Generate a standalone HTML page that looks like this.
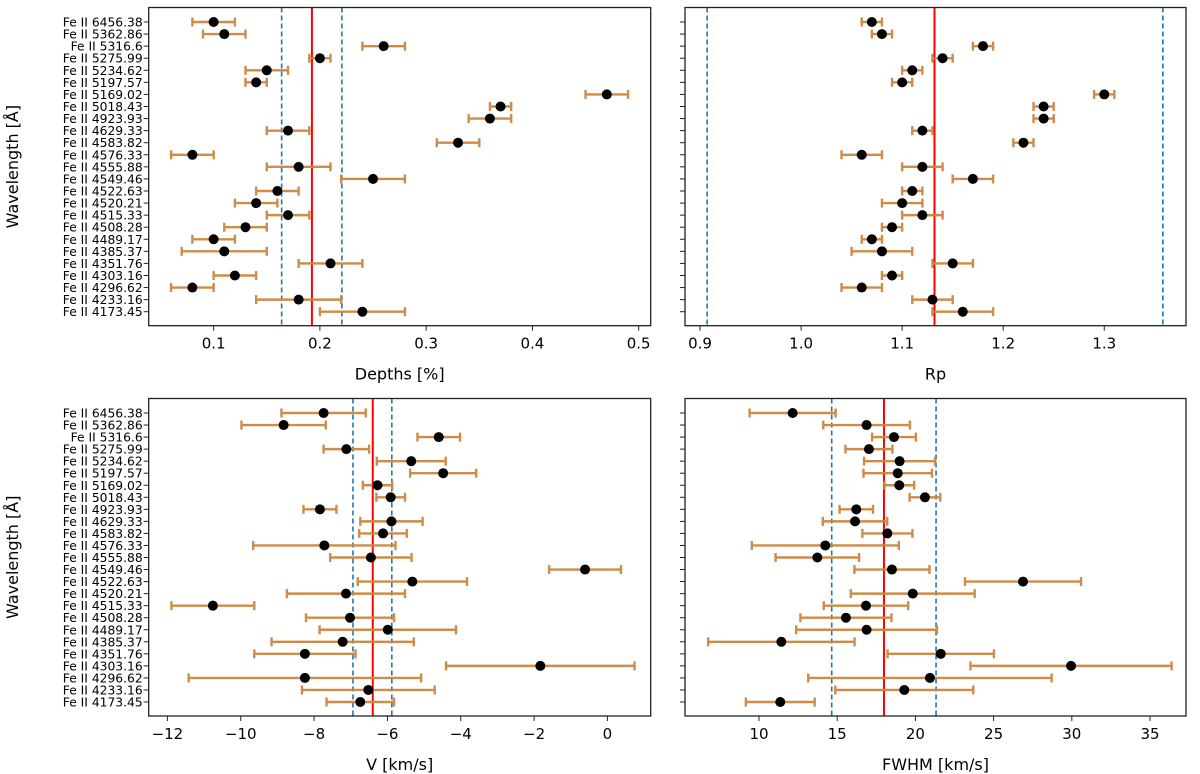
<!DOCTYPE html>
<html><head><meta charset="utf-8"><style>
body{margin:0;background:#fff;}
svg{display:block;font-family:"DejaVu Sans","Liberation Sans",sans-serif;}
</style></head><body>
<svg id="fig" width="1200" height="774" viewBox="0 0 1200 774" xmlns="http://www.w3.org/2000/svg"></svg>
<script>
const labels=["Fe II 6456.38","Fe II 5362.86","Fe II 5316.6","Fe II 5275.99","Fe II 5234.62","Fe II 5197.57","Fe II 5169.02","Fe II 5018.43","Fe II 4923.93","Fe II 4629.33","Fe II 4583.82","Fe II 4576.33","Fe II 4555.88","Fe II 4549.46","Fe II 4522.63","Fe II 4520.21","Fe II 4515.33","Fe II 4508.28","Fe II 4489.17","Fe II 4385.37","Fe II 4351.76","Fe II 4303.16","Fe II 4296.62","Fe II 4233.16","Fe II 4173.45"];
const depthVals=[0.10,0.11,0.26,0.20,0.15,0.14,0.47,0.37,0.36,0.17,0.33,0.08,0.18,0.25,0.16,0.14,0.17,0.13,0.10,0.11,0.21,0.12,0.08,0.18,0.24];
const depthErr=[0.02,0.02,0.02,0.01,0.02,0.01,0.02,0.01,0.02,0.02,0.02,0.02,0.03,0.03,0.02,0.02,0.02,0.02,0.02,0.04,0.03,0.02,0.02,0.04,0.04];
const depthLines=[0.1925,0.164,0.2207];
const rpVals=[1.07,1.08,1.18,1.14,1.11,1.10,1.30,1.24,1.24,1.12,1.22,1.06,1.12,1.17,1.11,1.10,1.12,1.09,1.07,1.08,1.15,1.09,1.06,1.13,1.16];
const rpErr=[0.01,0.01,0.01,0.01,0.01,0.01,0.01,0.01,0.01,0.01,0.01,0.02,0.02,0.02,0.01,0.02,0.02,0.01,0.01,0.03,0.02,0.01,0.02,0.02,0.03];
const rpLines=[1.132,0.907,1.358];
const vVals=[-7.74,-8.83,-4.60,-7.12,-5.35,-4.48,-6.27,-5.91,-7.84,-5.89,-6.12,-7.72,-6.45,-0.61,-5.32,-7.13,-10.76,-7.02,-5.99,-7.22,-8.25,-1.83,-8.25,-6.52,-6.74];
const vErr=[1.15,1.15,0.58,0.62,0.94,0.90,0.40,0.39,0.45,0.85,0.65,1.94,1.11,0.98,1.49,1.61,1.13,1.20,1.86,1.94,1.38,2.57,3.17,1.81,0.92];
const vLines=[-6.40,-6.94,-5.88];
const fwhmVals=[12.15,16.88,18.63,17.03,18.99,18.87,18.97,20.61,16.22,16.14,18.21,14.24,13.73,18.50,26.88,19.83,16.84,15.56,16.88,11.43,21.62,29.95,20.93,19.29,11.36];
const fwhmErr=[2.75,2.77,1.40,1.50,2.27,2.19,0.95,0.98,1.07,2.06,1.60,4.70,2.67,2.40,3.71,3.96,2.70,2.91,4.50,4.68,3.40,6.43,7.78,4.41,2.20];
const fwhmLines=[17.99,14.65,21.32];
const depthTicks=[0.1,0.2,0.3,0.4,0.5];
const rpTicks=[0.9,1.0,1.1,1.2,1.3];
const vTicks=[-12,-10,-8,-6,-4,-2,0];
const fwhmTicks=[10,15,20,25,30,35];

const NS="http://www.w3.org/2000/svg";
const svg=document.getElementById('fig');
function mk(tag,attrs,parent,text){const e=document.createElementNS(NS,tag);for(const k in attrs)e.setAttribute(k,attrs[k]);if(text!==undefined)e.textContent=text;(parent||svg).appendChild(e);return e;}

const panels=[
 {name:'depths',x0:148.7,x1:650.7,y0:7.5,y1:325.7,min:0.0389,max:0.5113,vals:depthVals,err:depthErr,lines:depthLines,ticks:depthTicks,fmt:v=>v.toFixed(1),title:'Depths [%]',ylab:true},
 {name:'rp',x0:685,x1:1186,y0:7.5,y1:325.7,min:0.8851,max:1.3809,vals:rpVals,err:rpErr,lines:rpLines,ticks:rpTicks,fmt:v=>v.toFixed(1),title:'Rp',ylab:false},
 {name:'velocity',x0:148.7,x1:650.7,y0:398.5,y1:716,min:-12.51,max:1.18,vals:vVals,err:vErr,lines:vLines,ticks:vTicks,fmt:v=>(v<0?'\u2212'+Math.abs(v):''+v),title:'V [km/s]',ylab:true},
 {name:'fwhm',x0:685,x1:1186,y0:398.5,y1:716,min:5.27,max:37.3,vals:fwhmVals,err:fwhmErr,lines:fwhmLines,ticks:fwhmTicks,fmt:v=>''+v,title:'FWHM [km/s]',ylab:false}
];

panels.forEach(p=>{
 const g=mk('g',{});
 
 
 const X=v=>p.x0+(v-p.min)/(p.max-p.min)*(p.x1-p.x0);
 const rowTop=p.y0+14.5, rowStep=(p.y1-p.y0-14.5-14)/(labels.length-1);
 const Y=i=>rowTop+i*rowStep;
 p.lines.forEach((v,i)=>{
  const l=mk('line',{x1:X(v),x2:X(v),y1:p.y0,y2:p.y1,stroke:i===0?'#ff0000':'#1f77b4','stroke-width':i===0?2:1.6,'stroke-dasharray':i===0?'none':'5,3'},g);
  
  
 });
 p.vals.forEach((v,i)=>{
  const y=Y(i),a=X(v-p.err[i]),b=X(v+p.err[i]);
  const eb=mk('g',{stroke:'#cd853f','stroke-width':2.4,opacity:0.95},g);
  
  
  mk('line',{x1:a,x2:b,y1:y,y2:y},eb);
  mk('line',{x1:a,x2:a,y1:y-4.5,y2:y+4.5},eb);
  mk('line',{x1:b,x2:b,y1:y-4.5,y2:y+4.5},eb);
  const c=mk('circle',{cx:X(v),cy:y,r:5,fill:'#000'},g);
  
  
  const t=mk('line',{x1:p.x0-5,x2:p.x0,y1:y,y2:y,stroke:'#222','stroke-width':1},g);
  
  
  if(p.ylab){
   const tl=mk('text',{x:p.x0-6,y:y+4.5,'text-anchor':'end','font-size':12.3,fill:'#000'},g,labels[i]);
   
   
  }
 });
 const fr=mk('rect',{x:p.x0,y:p.y0,width:p.x1-p.x0,height:p.y1-p.y0,fill:'none',stroke:'#222','stroke-width':1.3},g);
 
 
 p.ticks.forEach(v=>{
  const x=X(v);
  const t=mk('line',{x1:x,x2:x,y1:p.y1,y2:p.y1+5,stroke:'#222','stroke-width':1},g);
  
  
  const tl=mk('text',{x:x,y:p.y1+23,'text-anchor':'middle','font-size':15,fill:'#000'},g,p.fmt(v));
  
  
 });
 const xt=mk('text',{x:(p.x0+p.x1)/2,y:p.y1+54,'text-anchor':'middle','font-size':16,fill:'#000'},g,p.title);
 
 
 if(p.ylab){
  const cy=(p.y0+p.y1)/2;
  const yt=mk('text',{x:18,y:cy,'text-anchor':'middle','font-size':16,fill:'#000',transform:`rotate(-90 18 ${cy})`},g,'Wavelength [Å]');
  
  
 }
});
</script>
</body></html>
